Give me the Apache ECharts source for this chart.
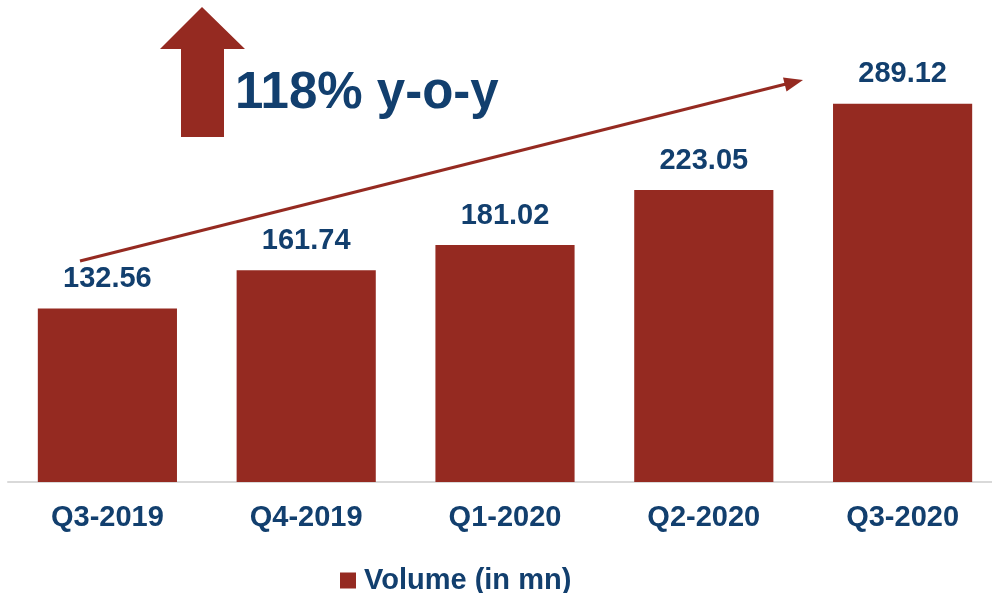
<!DOCTYPE html>
<html>
<head>
<meta charset="utf-8">
<script src="https://cdn.jsdelivr.net/npm/echarts@6.0.0/dist/echarts.min.js"></script>
<style>
  html, body { margin: 0; padding: 0; background: #fff; }
  #chart { width: 992px; height: 593px; }
</style>
</head>
<body>
<div id="chart"></div>
<script>
// quarters and volume (in mn)
const quarters = ['Q3-2019', 'Q4-2019', 'Q1-2020', 'Q2-2020', 'Q3-2020']
const volume = [132.56, 161.74, 181.02, 223.05, 289.12]
const seriesName = 'Volume (in mn)'
const growthText = '118% y-o-y'

const RED = '#952a21'
const BLUE = '#123f6e'
const FONT = '"Liberation Sans", Arial, sans-serif'

const chart = echarts.init(document.getElementById('chart'))
chart.setOption({
  animation: false,
  textStyle: { fontFamily: FONT },
  grid: { left: 8, width: 994, top: 24, bottom: 111, outerBoundsMode: 'none', containLabel: false },
  legend: {
    data: [seriesName],
    left: 335,
    top: 561,
    icon: 'rect',
    itemWidth: 16,
    itemHeight: 16,
    textStyle: { color: BLUE, fontSize: 29, fontWeight: 'bold', fontFamily: FONT, padding: [0, 0, 0, 3] }
  },
  xAxis: {
    type: 'category',
    data: quarters,
    axisLine: { lineStyle: { color: '#d9d9d9', width: 2 } },
    axisTick: { show: false },
    axisLabel: { color: BLUE, fontSize: 29, fontWeight: 'bold', margin: 21, fontFamily: FONT }
  },
  yAxis: {
    type: 'value',
    min: 0,
    max: 350,
    show: false,
    splitLine: { show: false }
  },
  series: [
    {
      name: seriesName,
      type: 'bar',
      data: volume,
      barCategoryGap: '30%',
      itemStyle: { color: RED },
      label: {
        show: true,
        position: 'top',
        distance: 15,
        color: BLUE,
        fontSize: 29,
        fontWeight: 'bold',
        fontFamily: FONT
      }
    }
  ],
  graphic: [
    // big up arrow
    {
      type: 'polygon',
      shape: { points: [[202, 7], [245, 49], [224, 49], [224, 137], [181, 137], [181, 49], [160, 49]] },
      style: { fill: RED }
    },
    {
      type: 'text',
      left: 235,
      top: 68,
      style: { text: growthText, fill: BLUE, fontSize: 51, fontWeight: 'bold', fontFamily: FONT }
    },
    // trend arrow
    {
      type: 'line',
      shape: { x1: 80, y1: 261, x2: 786, y2: 84 },
      style: { stroke: RED, lineWidth: 3 }
    },
    {
      type: 'polygon',
      shape: { points: [[803, 80], [786.5, 91.5], [783, 77.5]] },
      style: { fill: RED }
    }
  ]
})
</script>
</body>
</html>
